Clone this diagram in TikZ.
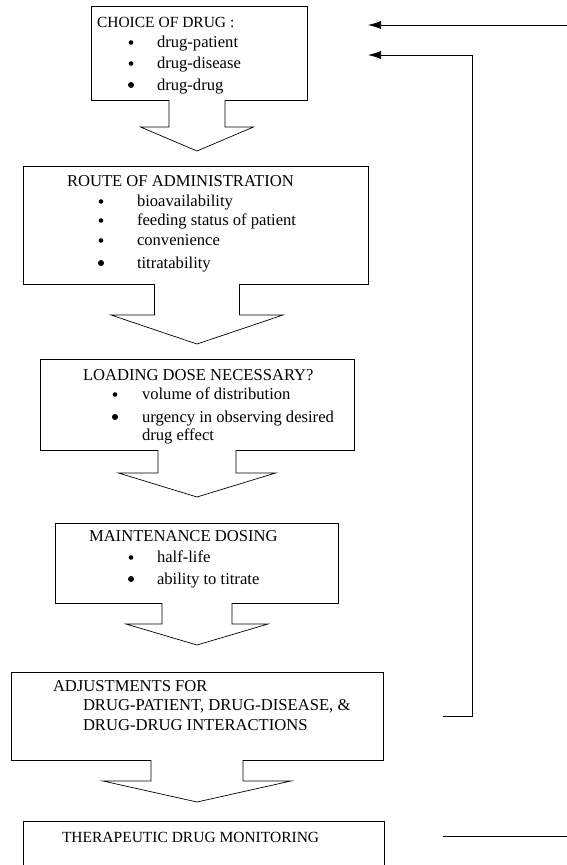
\documentclass[tikz,border=0pt]{standalone}
\usepackage{fontspec}
\setmainfont{Liberation Serif}
\usepackage{tikz}
\usetikzlibrary{positioning,calc,arrows.meta}

\begin{document}
\begin{tikzpicture} [x=1pt,y=-1pt,every node/.style={outer sep=0pt},line width=0.7pt]

\tikzstyle{box}=[draw,inner sep=0pt,line width=0.7pt]
\tikzstyle{txt}=[anchor=base west,inner sep=0pt,font=\fontsize{16.6}{19}\selectfont]
\tikzstyle{txtsmall}=[txt,font=\fontsize{15.5}{18}\selectfont]
\tikzstyle{back}=[line width=0.7pt,-{Latex[length=13pt,width=8pt]}]

% #1 box, #2 stem half width, #3 stem length, #4 wing half width, #5 head depth
\newcommand{\blockarrow}[5]{
  \fill [white] (#1.south -| axis) ++(-#2,-1) -- ++(0,#3+1) -- ++(2*#2,0) -- ++(0,-#3-1) -- cycle;
  \draw (#1.south -| axis) ++(-#2,0) -- ++(0,#3) -- ++(-#4+#2,0) -- ++(#4,#5) -- ++(#4,-#5) -- ++(-#4+#2,0) -- ++(0,-#3);
}
\newcommand{\bul}[3]{\fill (#1,#2) circle (#3);}

\useasboundingbox (0,0) rectangle (567,865);
\clip (0,0) rectangle (567,865);

\coordinate (axis) at (197,0);

\begin{scope}[]
\node (choice) [box,minimum width=216pt,minimum height=94pt] at (199,53) {};
\node (choiceT) [txtsmall] at (97,27) {CHOICE OF DRUG :};
\node (choice1) [txt] at (157,47) {drug-patient};
\node (choice2) [txt] at (157,68) {drug-disease};
\node (choice3) [txt] at (157,90) {drug-drug};
\bul{131}{42.5}{2.3} \bul{131}{63.5}{2.3} \bul{131}{85}{3}
\blockarrow{choice}{28}{27}{56.5}{24}
\end{scope}

\begin{scope}[]
\node (route) [box,minimum width=345pt,minimum height=118pt] at (195.5,225) {};
\node (routeT) [txt] at (67,186) {ROUTE OF ADMINISTRATION};
\node (route1) [txt] at (137,206) {bioavailability};
\node (route2) [txt] at (137,225) {feeding status of patient};
\node (route3) [txt] at (137,245) {convenience};
\node (route4) [txt] at (137,268) {titratability};
\bul{101}{201.5}{2.3} \bul{101}{220.5}{2.3} \bul{101}{240.5}{2.3} \bul{101}{263}{3}
\blockarrow{route}{42.5}{31}{86}{29}
\end{scope}

\begin{scope}[]
\node (loading) [box,minimum width=314pt,minimum height=91pt] at (197,404.5) {};
\node (loadingT) [txt] at (83,380) {LOADING DOSE NECESSARY?};
\node (loading1) [txt] at (142,399) {volume of distribution};
\node (loading2) [txt] at (142,422) {urgency in observing desired};
\node (loading3) [txt] at (142,440) {drug effect};
\bul{115}{394.5}{2.3} \bul{115}{417}{3}
\blockarrow{loading}{39}{23}{78.5}{24}
\end{scope}

\begin{scope}[]
\node (maint) [box,minimum width=283pt,minimum height=80pt] at (196.5,563) {};
\node (maintT) [txt] at (89,541) {MAINTENANCE DOSING};
\node (maint1) [txt] at (157,562) {half-life};
\node (maint2) [txt] at (157,584) {ability to titrate};
\bul{131}{557.5}{2.3} \bul{131}{579}{3}
\blockarrow{maint}{35}{21}{71}{21}
\end{scope}

\begin{scope}[]
\node (adjust) [box,minimum width=372pt,minimum height=88pt] at (197,716) {};
\node (adjustT) [txt] at (53,691) {ADJUSTMENTS FOR};
\node (adjust1) [txt] at (83,710) {DRUG-PATIENT, DRUG-DISEASE, \&};
\node (adjust2) [txt] at (83,730) {DRUG-DRUG INTERACTIONS};
\blockarrow{adjust}{46}{21}{94}{21}
\end{scope}

\node (tdm) [box,minimum width=361pt,minimum height=90pt] at (203.5,866) {};
\node (tdmT) [txtsmall] at (62,842) {THERAPEUTIC DRUG MONITORING};

%feedback lines
\coordinate (in1) at (368,25);
\coordinate (in2) at (368,55);
\coordinate (out1) at (568,25);
\coordinate (c1) at (472,55);
\coordinate (c2) at (472,716);
\coordinate (c3) at (443,716);
\coordinate (c4) at (443,836);
\coordinate (c5) at (568,836);
\draw [back] (out1) -- (in1);
\draw [back] (c3) -- (c2) -- (c1) -- (in2);
\draw (c4) -- (c5);
%\draw[step=50,gray,very thin] (0,0) grid (567,865);

\end{tikzpicture}
\end{document}
